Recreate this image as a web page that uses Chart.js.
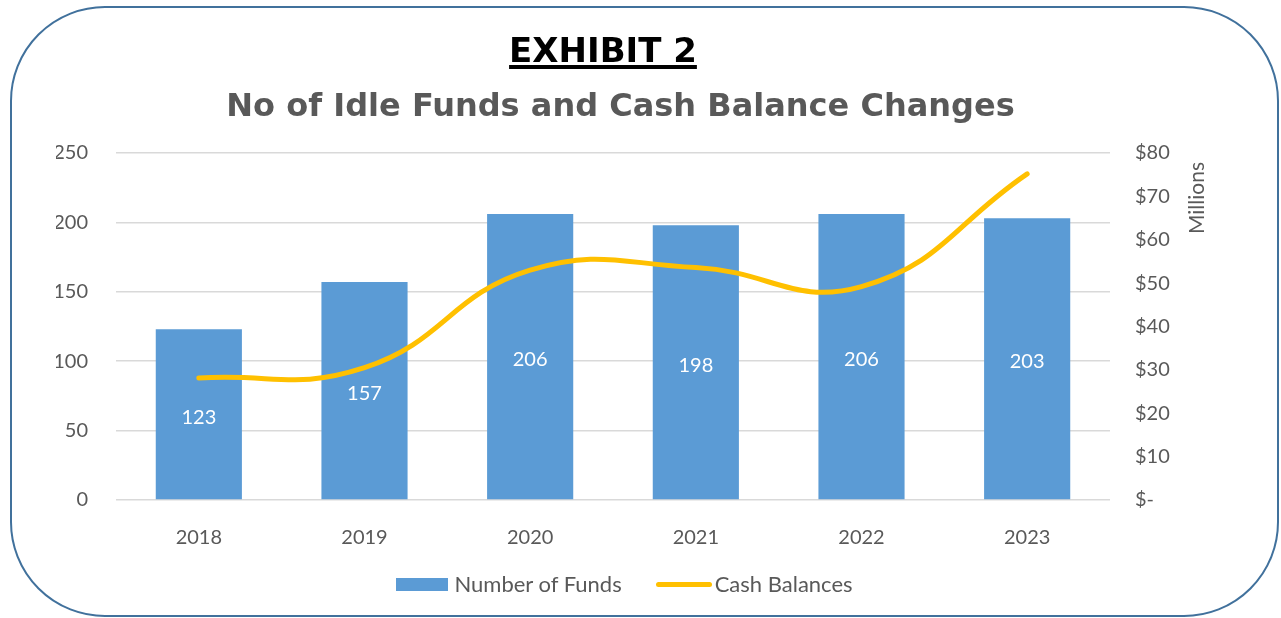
<!DOCTYPE html>
<html>
<head>
<meta charset="utf-8">
<script src="https://cdn.jsdelivr.net/npm/chart.js@4.4.1/dist/chart.umd.min.js"></script>
<style>
  html, body { margin: 0; padding: 0; background: #fff; }
  #wrap { position: relative; width: 1281px; height: 618px; overflow: hidden; }
  #frame {
    position: absolute; left: 10px; top: 6px; width: 1265px; height: 607px;
    border: 2px solid #41719c; border-radius: 95px;
  }
  #exhibit {
    position: absolute; left: 0; top: 33px; width: 1206px; text-align: center;
    font: bold 34px/34px "DejaVu Sans", Verdana, sans-serif; color: #000;
    text-decoration: underline; text-decoration-thickness: 4px; text-underline-offset: 3px;
  }
  #title {
    position: absolute; left: 0; top: 89px; width: 1241px; text-align: center;
    font: bold 32px/32px "DejaVu Sans", Verdana, sans-serif; color: #595959;
  }
  #chart { position: absolute; left: 0; top: 0; }
  #legend {
    position: absolute; left: 0; top: 569px; width: 1249px; height: 30px;
    display: flex; justify-content: center; align-items: center;
    font: 22px/30px Lato, sans-serif; color: #595959;
  }
  #legend .item { display: flex; align-items: center; }
  #legend .item + .item { margin-left: 34px; }
  #legend .box { width: 52px; height: 13px; background: #5b9bd5; margin-right: 6px; }
  #legend .ln { width: 56px; height: 5px; border-radius: 3px; background: #ffc000; margin-right: 3px; }
</style>
</head>
<body>
<div id="wrap">
  <div id="frame"></div>
  <canvas id="chart" width="1281" height="618"></canvas>
  <div id="exhibit">EXHIBIT 2</div>
  <div id="title">No of Idle Funds and Cash Balance Changes</div>
  <div id="legend">
    <div class="item"><div class="box"></div>Number of Funds</div>
    <div class="item"><div class="ln"></div>Cash Balances</div>
  </div>
</div>
<script>
const years = ['2018', '2019', '2020', '2021', '2022', '2023'];
const numberOfFunds = [123, 157, 206, 198, 206, 203];
const cashBalances = [28.1, 30.5, 53.0, 53.6, 49.2, 75.2]; // $ millions
const fundTicks = { min: 0, max: 250, step: 50 };
const cashTicks = { min: 0, max: 80, step: 10 };

const tickFont = { family: 'Lato', size: 20 };
const grey = '#595959';

// white value labels in the middle of each bar
const barLabels = {
  id: 'barLabels',
  afterDatasetsDraw(chart) {
    const ctx = chart.ctx;
    const meta = chart.getDatasetMeta(1);
    ctx.save();
    ctx.fillStyle = '#ffffff';
    ctx.font = '20px Lato';
    ctx.textAlign = 'center';
    ctx.textBaseline = 'middle';
    meta.data.forEach((bar, i) => {
      const y = (bar.y + bar.base) / 2 + 3;
      ctx.fillText(numberOfFunds[i], bar.x, y);
    });
    ctx.restore();
  }
};

// "Millions" title on the right axis, reads bottom to top
const millionsTitle = {
  id: 'millionsTitle',
  afterDraw(chart) {
    const ctx = chart.ctx;
    const top = chart.scales.y2.top;
    ctx.save();
    ctx.translate(1197, top + 9);
    ctx.rotate(-Math.PI / 2);
    ctx.fillStyle = grey;
    ctx.font = '21px Lato';
    ctx.textAlign = 'right';
    ctx.textBaseline = 'middle';
    ctx.fillText('Millions', 0, 0);
    ctx.restore();
  }
};

new Chart(document.getElementById('chart'), {
  data: {
    labels: years,
    datasets: [
      {
        type: 'line',
        label: 'Cash Balances',
        data: cashBalances,
        yAxisID: 'y2',
        borderColor: '#ffc000',
        borderWidth: 5,
        borderCapStyle: 'round',
        tension: 0.45,
        pointRadius: 0,
        fill: false,
        order: 0
      },
      {
        type: 'bar',
        label: 'Number of Funds',
        data: numberOfFunds,
        yAxisID: 'y',
        backgroundColor: '#5b9bd5',
        categoryPercentage: 1,
        barPercentage: 0.52,
        order: 1
      }
    ]
  },
  plugins: [barLabels, millionsTitle],
  options: {
    responsive: false,
    animation: false,
    layout: { padding: { left: 56, right: 71, top: 153, bottom: 68 } },
    plugins: { legend: { display: false }, tooltip: { enabled: false } },
    scales: {
      x: {
        grid: { display: false },
        border: { display: false },
        ticks: { color: grey, font: tickFont, padding: 18 },
        afterFit: s => { s.height = 50; }
      },
      y: {
        position: 'left',
        min: fundTicks.min, max: fundTicks.max,
        ticks: { stepSize: fundTicks.step, color: grey, font: tickFont, padding: 28 },
        grid: { color: '#d9d9d9', drawTicks: false, lineWidth: 1.5 },
        border: { display: false },
        afterFit: s => { s.width = 60; }
      },
      y2: {
        position: 'right',
        min: cashTicks.min, max: cashTicks.max,
        ticks: {
          stepSize: cashTicks.step, color: grey, font: tickFont, padding: 25,
          callback: v => v === 0 ? '$-' : '$' + v
        },
        grid: { display: false, drawTicks: false },
        border: { display: false },
        afterFit: s => { s.width = 100; }
      }
    }
  }
});
</script>
</body>
</html>
